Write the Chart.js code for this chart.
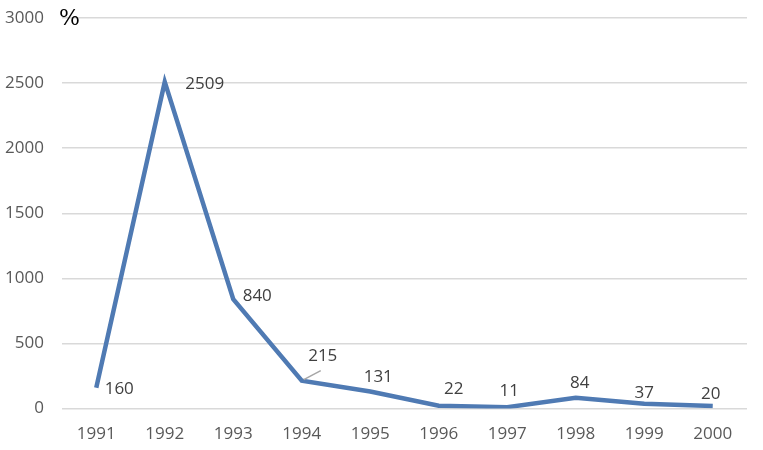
<!DOCTYPE html>
<html>
<head>
<meta charset="utf-8">
<script src="https://cdn.jsdelivr.net/npm/chart.js@4"></script>
<style>
  body { margin: 0; background: #fff; }
  canvas { display: block; }
</style>
</head>
<body>
<canvas id="chart" width="763" height="450"></canvas>
<script>
const years = ['1991', '1992', '1993', '1994', '1995', '1996', '1997', '1998', '1999', '2000'];
const values = [160, 2509, 840, 215, 131, 22, 11, 84, 37, 20];
const yTicks = [0, 500, 1000, 1500, 2000, 2500, 3000];

// where each value label sits relative to its point (dx, dy in px)
const labelOffsets = [
  [23, 1], [40, 2], [24, -3], [21, -24], [8, -14],
  [15, -17], [2, -16], [4, -15], [0, -11], [-2, -12]
];

const labelPlugin = {
  id: 'labels',
  afterDatasetsDraw(chart) {
    const ctx = chart.ctx;
    const meta = chart.getDatasetMeta(0);
    ctx.save();
    ctx.font = '17px "Open Sans", sans-serif';
    ctx.fillStyle = '#404040';
    ctx.textAlign = 'center';
    ctx.textBaseline = 'middle';
    meta.data.forEach((pt, i) => {
      const [dx, dy] = labelOffsets[i];
      if (i === 3) {
        // short leader line for the 1994 label
        ctx.strokeStyle = '#a6a6a6';
        ctx.lineWidth = 1.5;
        ctx.beginPath();
        ctx.moveTo(pt.x + 2, pt.y - 1);
        ctx.lineTo(pt.x + 19, pt.y - 10);
        ctx.stroke();
      }
      ctx.fillText(String(values[i]), pt.x + dx, pt.y + dy);
    });
    // unit mark
    ctx.font = '22px "DejaVu Serif", serif';
    ctx.fillStyle = '#000';
    ctx.textAlign = 'left';
    ctx.fillText('%', 59, 19);
    ctx.restore();
  }
};

new Chart(document.getElementById('chart'), {
  type: 'line',
  data: {
    labels: years,
    datasets: [{
      data: values,
      borderColor: '#4f7ab3',
      borderWidth: 4.5,
      pointRadius: 0,
      tension: 0,
      fill: false
    }]
  },
  options: {
    responsive: false,
    animation: false,
    layout: { padding: { top: 18, right: 16, bottom: -1, left: 0 } },
    plugins: { legend: { display: false }, tooltip: { enabled: false } },
    scales: {
      x: {
        offset: true,
        grid: { display: false },
        border: { display: false },
        ticks: { color: '#595959', font: { size: 17, family: '"Open Sans", sans-serif' }, padding: 7 }
      },
      y: {
        min: 0,
        max: 3000,
        afterBuildTicks(axis) { axis.ticks = yTicks.map(v => ({ value: v })); },
        afterFit(axis) { axis.width = 62; },
        grid: { color: '#d9d9d9', lineWidth: 1.5, tickLength: 18, tickColor: 'rgba(0,0,0,0)' },
        border: { display: false },
        ticks: {
          color: '#595959',
          font: { size: 17, family: '"Open Sans", sans-serif' },
          padding: 0,
          callback: v => String(v)
        }
      }
    }
  },
  plugins: [labelPlugin]
});
</script>
</body>
</html>
